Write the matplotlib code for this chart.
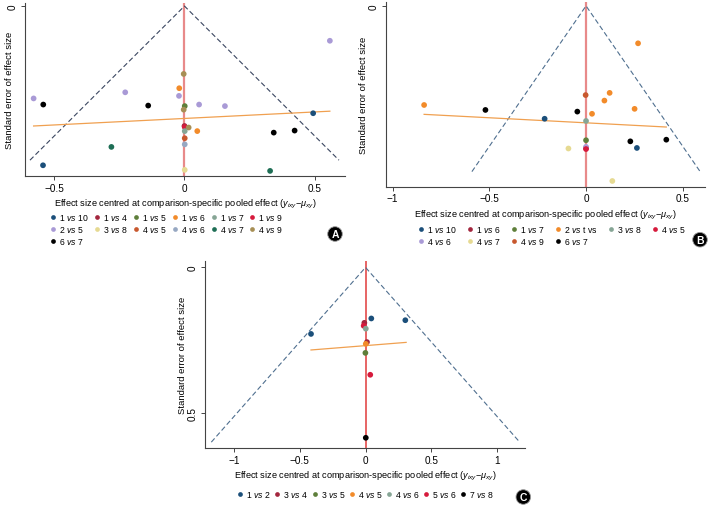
import matplotlib
matplotlib.use("Agg")
import matplotlib.pyplot as plt
from matplotlib.lines import Line2D

plt.rcParams['font.family'] = ['Liberation Sans', 'DejaVu Sans']
plt.rcParams['mathtext.fontset'] = 'custom'
plt.rcParams['mathtext.it'] = 'Liberation Sans:italic'
plt.rcParams['mathtext.rm'] = 'Liberation Sans'

# ---------------- data ----------------
# Panel A
A_groups = ["1 vs 10", "1 vs 4", "1 vs 5", "1 vs 6", "1 vs 7", "1 vs 9",
            "2 vs 5", "3 vs 8", "4 vs 5", "4 vs 6", "4 vs 7", "4 vs 9", "6 vs 7"]
A_x = [0.557, -0.003, -0.020, -0.227, -0.578, -0.021, -0.541, -0.139, 0.001, 0.056,
       0.155, -0.003, 0.493, 0.000, 0.001, 0.016, 0.001, 0.049, 0.342, 0.422,
       0.001, -0.280, 0.001, -0.542, 0.001, 0.328]
A_y = [0.068, 0.133, 0.161, 0.169, 0.181, 0.176, 0.193, 0.195, 0.196, 0.193,
       0.196, 0.203, 0.210, 0.235, 0.237, 0.238, 0.245, 0.245, 0.248, 0.244,
       0.259, 0.276, 0.271, 0.312, 0.321, 0.323]
A_g = ["2 vs 5", "4 vs 9", "1 vs 6", "2 vs 5", "2 vs 5", "2 vs 5", "6 vs 7", "6 vs 7", "1 vs 5", "2 vs 5",
       "2 vs 5", "4 vs 9", "1 vs 10", "1 vs 4", "1 vs 9", "4 vs 9", "1 vs 7", "1 vs 6", "6 vs 7", "6 vs 7",
       "4 vs 5", "4 vs 7", "4 vs 6", "1 vs 10", "3 vs 8", "4 vs 7"]
A_fit_x = [-0.578, 0.557]
A_fit_y = [0.235, 0.206]
A_funnel_se = 0.302

# Panel B
B_groups = ["1 vs 10", "1 vs 6", "1 vs 7", "2 vs t vs", "3 vs 8", "4 vs 5",
            "4 vs 6", "4 vs 7", "4 vs 9", "6 vs 7"]
B_x = [0.269, -0.002, 0.122, 0.095, -0.837, -0.520, -0.045, 0.251, 0.031, -0.214,
       0.000, 0.000, 0.229, 0.415, 0.263, -0.091, 0.000, 0.000, 0.000, 0.136]
B_y = [0.068, 0.162, 0.158, 0.172, 0.180, 0.189, 0.192, 0.187, 0.196, 0.205,
       0.209, 0.244, 0.246, 0.243, 0.258, 0.259, 0.258, 0.256, 0.260, 0.318]
B_g = ["2 vs t vs", "4 vs 9", "2 vs t vs", "2 vs t vs", "2 vs t vs", "6 vs 7", "6 vs 7", "2 vs t vs", "2 vs t vs", "1 vs 10",
       "3 vs 8", "1 vs 7", "6 vs 7", "6 vs 7", "1 vs 10", "4 vs 7", "1 vs 6", "4 vs 6", "4 vs 5", "4 vs 7"]
B_fit_x = [-0.837, 0.415]
B_fit_y = [0.197, 0.220]
B_funnel_se = 0.301

# Panel C
C_groups = ["1 vs 2", "3 vs 4", "3 vs 5", "4 vs 5", "4 vs 6", "5 vs 6", "7 vs 8"]
C_x = [0.044, 0.303, -0.415, -0.009, -0.014, 0.002, 0.011, 0.002, -0.001, 0.036, 0.002]
C_y = [0.175, 0.181, 0.228, 0.190, 0.200, 0.210, 0.256, 0.262, 0.293, 0.368, 0.584]
C_g = ["1 vs 2", "1 vs 2", "1 vs 2", "3 vs 4", "5 vs 6", "4 vs 6", "3 vs 4", "4 vs 5", "3 vs 5", "5 vs 6", "7 vs 8"]
C_fit_x = [-0.415, 0.309]
C_fit_y = [0.283, 0.257]
C_funnel_se = 0.599

# ---------------- style ----------------
palette = ["#1b4f7a", "#a3263e", "#5e7f3a", "#f28b2a", "#86a595", "#d61a3c",
           "#a99ad6", "#e6da92", "#c8582e", "#97a8c2", "#1e6e55", "#a78f55"]


def colors_for(groups):
    d = {}
    for i, g in enumerate(groups):
        d[g] = "#000000" if i == len(groups) - 1 else palette[i]
    return d


def lab(g):
    parts = g.split(" vs ")
    return r" $\mathit{vs}$ ".join(parts)


W, H = 709, 506
fig = plt.figure(figsize=(W / 100, H / 100), dpi=100)


def px_axes(l, t, r, b):
    return fig.add_axes([l / W, 1 - b / H, (r - l) / W, (b - t) / H])


xlabel = r"Effect size centred at comparison-specific pooled effect ($y_{ixy}$$-$$\mu_{xy}$)"


def panel(ax, xs, ys, gs, groups, fitx, fity, se, xlim, ylim, xticks, yticks,
          redcol, redlw, funcol, ylab_x):
    cmap = colors_for(groups)
    ax.axvline(0, color=redcol, lw=redlw, zorder=1)
    ax.plot([-1.96 * se, 0, 1.96 * se], [se, 0, se], ls=(0, (4.5, 2.5)),
            color=funcol, lw=0.8, zorder=2)
    ax.plot(fitx, fity, color="#f0a050", lw=0.9, zorder=3)
    ax.scatter(xs, ys, c=[cmap[g] for g in gs], s=17, linewidths=0, zorder=4)
    ax.set_xlim(*xlim)
    ax.set_ylim(*ylim)
    ax.set_xticks(xticks)
    ax.set_xticklabels([("\u2212" if v < 0 else "") + (f"{abs(v):g}") for v in xticks])
    ax.set_yticks(yticks)
    ax.set_yticklabels([f"{v:g}" for v in yticks], rotation=90, va="center")
    for s in ["top", "right"]:
        ax.spines[s].set_visible(False)
    for s in ["left", "bottom"]:
        ax.spines[s].set_color("#444444")
        ax.spines[s].set_linewidth(0.8)
    ax.tick_params(labelsize=7.2, length=3, width=0.7, color="#444444", pad=2)
    ax.set_xlabel(xlabel, fontsize=6.6, labelpad=3)
    ax.set_ylabel("Standard error of effect size", fontsize=6.8)
    ax.yaxis.set_label_coords(ylab_x, 0.5)
    return cmap


def legend(ax, groups, cmap, ncol, order, x0, y0, colsp):
    handles = [Line2D([], [], marker="o", ls="none", markersize=3.4,
                      markerfacecolor=cmap[groups[i]], markeredgewidth=0) for i in order]
    labels = [lab(groups[i]) for i in order]
    ax.legend(handles, labels, ncol=ncol, loc="upper left",
              bbox_to_anchor=(x0 / W, 1 - y0 / H), bbox_transform=fig.transFigure,
              frameon=False, fontsize=6.2, handletextpad=0.2, columnspacing=colsp,
              handlelength=1.0, borderaxespad=0, borderpad=0, labelspacing=0.25)


# Panel A
axA = px_axes(25, 4, 345, 177)
cA = panel(axA, A_x, A_y, A_g, A_groups, A_fit_x, A_fit_y, A_funnel_se,
           (-0.611, 0.615), (0.333, -0.006), [-0.5, 0, 0.5], [0],
           "#e88a8a", 1.6, "#3a4660", -0.035)
legend(axA, A_groups, cA, 6, [0, 6, 12, 1, 7, 2, 8, 3, 9, 4, 10, 5, 11], 49, 213, 0.45)

# Panel B
axB = px_axes(386, 3, 705, 187.5)
cB = panel(axB, B_x, B_y, B_g, B_groups, B_fit_x, B_fit_y, B_funnel_se,
           (-1.034, 0.615), (0.328, -0.007), [-1, -0.5, 0, 0.5], [0],
           "#e88a8a", 1.6, "#4f6f8f", -0.055)
legend(axB, B_groups, cB, 6, [0, 6, 1, 7, 2, 8, 3, 9, 4, 5], 417, 225, 1.05)

# Panel C
axC = px_axes(205, 261.7, 525, 449)
cC = panel(axC, C_x, C_y, C_g, C_groups, C_fit_x, C_fit_y, C_funnel_se,
           (-1.222, 1.214), (0.619, -0.023), [-1, -0.5, 0, 0.5, 1], [0, 0.5],
           "#e03a3a", 1.1, "#4f6f8f", -0.055)
legend(axC, C_groups, cC, 7, list(range(7)), 236, 490.5, 0.25)

# Panel letters
for x, y, t in [(335, 235, "A"), (700, 240.7, "B"), (523.3, 498, "C")]:
    fig.text(x / W, 1 - y / H, t, color="white", fontsize=7.5, fontweight="bold",
             ha="center", va="center",
             bbox=dict(boxstyle="circle,pad=0.22", fc="black", ec="#999999", lw=0.6))

fig.savefig("out.png", dpi=100)
